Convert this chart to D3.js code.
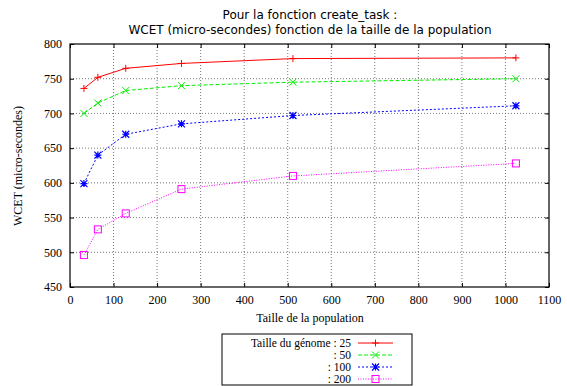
<!DOCTYPE html>
<html><head><meta charset="utf-8">
<script src="https://cdn.jsdelivr.net/npm/d3@7"></script>
<style>body{margin:0;background:#fff}svg{display:block}</style>
</head><body>
<svg id="c" width="567" height="386"></svg>
<script>
const population = [32, 64, 128, 256, 512, 1024];
const genome25 = [736, 752, 765, 772, 779, 780];
const genome50 = [700, 715, 733, 740, 745, 750];
const genome100 = [599, 640, 670, 685, 697, 711];
const genome200 = [496, 533, 556, 591, 610, 628];
const xTicks = [0,100,200,300,400,500,600,700,800,900,1000,1100];
const yTicks = [450,500,550,600,650,700,750,800];
const legendLabels = ["Taille du génome : 25", ": 50", ": 100", ": 200"];

const series = [
  {vals: genome25, color: "#ff0000", dash: null, marker: "plus"},
  {vals: genome50, color: "#00ee00", dash: "4,2", marker: "cross"},
  {vals: genome100, color: "#0000ff", dash: "2,2", marker: "star"},
  {vals: genome200, color: "#ff00ff", dash: "1,1.5", marker: "square"}
];

const svg = d3.select("#c");
const L=70, R=549, T=44, B=287;
const x = d3.scaleLinear().domain([0,1100]).range([L,R]);
const y = d3.scaleLinear().domain([450,800]).range([B,T]);

// grid
const g = svg.append("g");
xTicks.slice(1,-1).forEach(t=>g.append("line").attr("x1",x(t)).attr("x2",x(t)).attr("y1",T).attr("y2",B)
  .attr("stroke","#555").attr("stroke-width",0.8).attr("stroke-dasharray","1,2"));
yTicks.slice(1,-1).forEach(t=>g.append("line").attr("x1",L).attr("x2",R).attr("y1",y(t)).attr("y2",y(t))
  .attr("stroke","#555").attr("stroke-width",0.8).attr("stroke-dasharray","1,2"));

// axes
const serif = "Liberation Serif, Times New Roman, serif";
const xa = svg.append("g").attr("transform",`translate(0,${B})`).call(d3.axisBottom(x).tickValues(xTicks).tickSize(-4).tickPadding(8).tickFormat(d3.format("d")));
const xt = svg.append("g").attr("transform",`translate(0,${T})`).call(d3.axisTop(x).tickValues(xTicks).tickSize(-4).tickFormat(""));
const ya = svg.append("g").attr("transform",`translate(${L},0)`).call(d3.axisLeft(y).tickValues(yTicks).tickSize(-4).tickPadding(8));
const yr = svg.append("g").attr("transform",`translate(${R},0)`).call(d3.axisRight(y).tickValues(yTicks).tickSize(-4).tickFormat(""));
[xa,xt,ya,yr].forEach(a=>{a.select(".domain").remove();a.selectAll("line").attr("stroke","#000");
  a.selectAll("text").attr("font-family",serif).attr("font-size",12).attr("fill","#000");});
svg.append("rect").attr("x",L).attr("y",T).attr("width",R-L).attr("height",B-T).attr("fill","none").attr("stroke","#000").attr("stroke-width",1.2);

function marker(sel, type, cx, cy, color){
  const s=3.5;
  if(type==="plus"){
    sel.append("path").attr("d",`M${cx-s},${cy}H${cx+s}M${cx},${cy-s}V${cy+s}`).attr("stroke",color).attr("stroke-width",1);
  } else if(type==="cross"){
    sel.append("path").attr("d",`M${cx-s},${cy-s}L${cx+s},${cy+s}M${cx-s},${cy+s}L${cx+s},${cy-s}`).attr("stroke",color).attr("stroke-width",1);
  } else if(type==="star"){
    sel.append("path").attr("d",`M${cx-s},${cy-s}L${cx+s},${cy+s}M${cx-s},${cy+s}L${cx+s},${cy-s}M${cx-s},${cy}H${cx+s}M${cx},${cy-s}V${cy+s}`).attr("stroke",color).attr("stroke-width",1.2);
  } else {
    sel.append("rect").attr("x",cx-s).attr("y",cy-s).attr("width",2*s).attr("height",2*s).attr("fill","none").attr("stroke",color).attr("stroke-width",1);
  }
}

const line = d3.line().x((d,i)=>x(population[i])).y(d=>y(d));
series.forEach(s=>{
  svg.append("path").attr("d",line(s.vals)).attr("fill","none").attr("stroke",s.color).attr("stroke-width",1)
    .attr("stroke-dasharray",s.dash);
  const mg = svg.append("g");
  s.vals.forEach((v,i)=>marker(mg,s.marker,x(population[i]),y(v),s.color));
});

// titles
const sans = "DejaVu Sans, sans-serif";
svg.append("text").attr("x",310).attr("y",19).attr("text-anchor","middle").attr("font-family",sans).attr("font-size",12).text("Pour la fonction create_task :");
svg.append("text").attr("x",310).attr("y",34).attr("text-anchor","middle").attr("font-family",sans).attr("font-size",12).text("WCET (micro-secondes) fonction de la taille de la population");
svg.append("text").attr("x",310).attr("y",322).attr("text-anchor","middle").attr("font-family",serif).attr("font-size",12).text("Taille de la population");
svg.append("text").attr("transform","translate(22,166) rotate(-90)").attr("text-anchor","middle").attr("font-family",serif).attr("font-size",12).text("WCET (micro-secondes)");

// legend
svg.append("rect").attr("x",222).attr("y",334).attr("width",190).attr("height",51).attr("fill","#fff").attr("stroke","#000").attr("stroke-width",1);
series.forEach((s,i)=>{
  const ly = 343 + i*12;
  svg.append("text").attr("x",351).attr("y",ly+4).attr("text-anchor","end").attr("font-family",serif).attr("font-size",11.5).text(legendLabels[i]);
  svg.append("line").attr("x1",358).attr("x2",393).attr("y1",ly).attr("y2",ly).attr("stroke",s.color).attr("stroke-width",1).attr("stroke-dasharray",s.dash);
  marker(svg,s.marker,375.5,ly,s.color);
});
</script>
</body></html>
